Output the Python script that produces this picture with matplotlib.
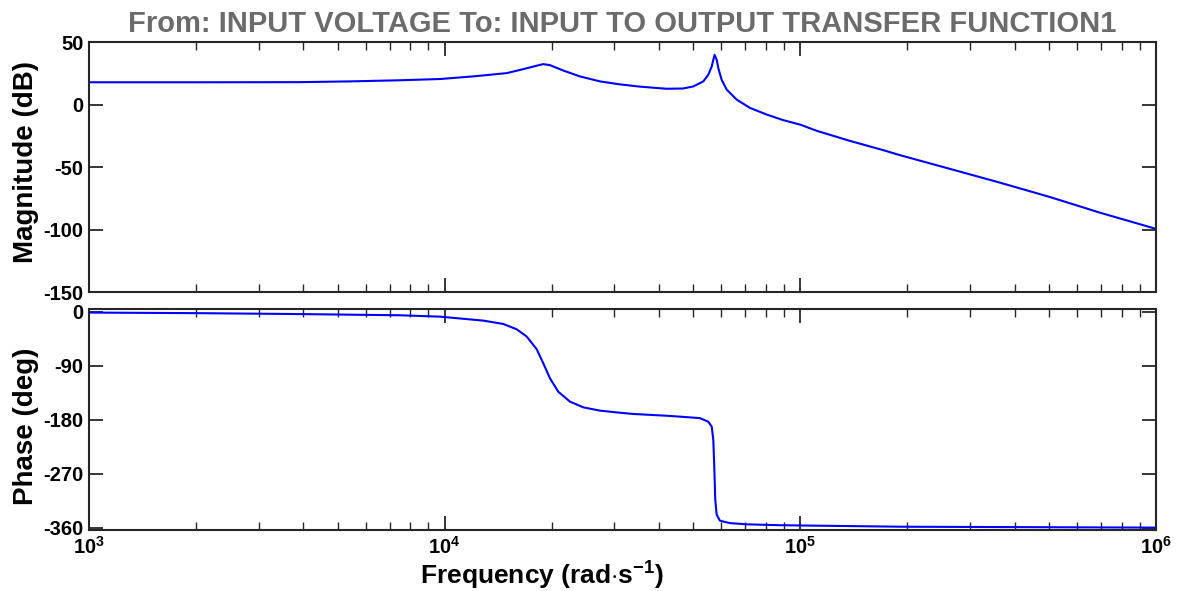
import numpy as np
import matplotlib
matplotlib.use("Agg")
import matplotlib.pyplot as plt
import matplotlib.ticker as mticker

plt.rcParams.update({
    "font.family": ["Liberation Sans", "DejaVu Sans"],
    "font.weight": "bold",
    "mathtext.fontset": "custom",
    "mathtext.rm": "Liberation Sans:bold",
    "mathtext.bf": "Liberation Sans:bold",
    "mathtext.default": "bf",
    "axes.edgecolor": "#262626",
    "axes.linewidth": 1.5,
})

# magnitude curve (rad/s, dB)
mag_freq = [1000, 2050, 3920, 5420, 7480, 9710, 12030, 14930, 16630, 18530,
            18930, 19770, 21550, 23990, 27330, 31120, 35420, 42080, 46770,
            50020, 53350, 55100, 56330, 56920, 57410, 58190, 58800, 60080,
            62080, 66240, 72150, 80370, 89530, 100200, 111100, 137800,
            171000, 190500, 263500, 364000, 503000, 695000, 1000000]
mag_db = [17.8, 17.8, 17.9, 18.5, 19.4, 20.4, 22.5, 25.1, 28.3, 31.7,
          32.3, 31.5, 27.2, 22.5, 18.5, 16.1, 14.3, 12.6, 12.8,
          14.5, 18.5, 23.8, 30.4, 35.7, 39.7, 35.7, 29.1, 19.8,
          11.9, 3.9, -2.7, -8.0, -12.5, -16.2, -21.0, -29.1,
          -36.5, -40.5, -51.5, -62.5, -74.0, -86.5, -99.5]

# phase curve (rad/s, deg)
ph_freq = [1000, 2050, 3920, 7480, 9710, 12840, 14620, 15940, 17010, 18140,
           18930, 19770, 20870, 22510, 24530, 27330, 31110, 33840, 42100,
           45860, 52220, 55100, 56330, 56920, 57280, 57650, 58170, 59420,
           63400, 70630, 87640, 190500, 1000000]
ph_deg = [-1.0, -2.0, -3.5, -5.5, -7.8, -14.4, -20.0, -28.9, -41.0, -62.0,
          -85.5, -110.5, -133.0, -149.5, -159.0, -164.5, -168.0, -170.0, -173.0,
          -174.5, -177.0, -183.0, -191.0, -213.0, -258.0, -313.0, -338.0, -348.0,
          -352.0, -354.0, -355.5, -358.0, -359.5]

xticks = [1e3, 1e4, 1e5, 1e6]
xtick_labels = [r"$10^{3}$", r"$10^{4}$", r"$10^{5}$", r"$10^{6}$"]
mag_ticks = [50, 0, -50, -100, -150]
ph_ticks = [0, -90, -180, -270, -360]

fig = plt.figure(figsize=(11.8, 5.91), dpi=100)
ax1 = fig.add_axes([0.0754, 0.5059, 0.9043, 0.4230])
ax2 = fig.add_axes([0.0754, 0.1032, 0.9043, 0.3740])

ax1.plot(mag_freq, mag_db, color="#0000ff", lw=1.5)
ax2.plot(ph_freq, ph_deg, color="#0000ff", lw=1.5)

for ax in (ax1, ax2):
    ax.set_xscale("log")
    ax.set_xlim(1e3, 1e6)
    ax.set_xticks(xticks)
    ax.xaxis.set_minor_locator(mticker.LogLocator(base=10, subs=np.arange(2, 10)))
    ax.xaxis.set_minor_formatter(mticker.NullFormatter())
    ax.tick_params(which="major", direction="in", length=10, width=1.3,
                   top=True, right=True, labelsize=14.5, pad=4, color="#262626")
    ax.tick_params(which="minor", direction="in", length=6, width=1.0,
                   top=True, right=True, color="#262626")
    ax.tick_params(axis="y", which="minor", left=False, right=False)

ax1.set_ylim(-150, 50)
ax1.set_yticks(mag_ticks)
ax1.set_yticklabels([str(t) for t in mag_ticks])
ax1.set_xticklabels([])
ax1.set_ylabel("Magnitude (dB)", fontsize=20, fontweight="bold")
ax1.set_title("From: INPUT VOLTAGE To: INPUT TO OUTPUT TRANSFER FUNCTION1",
              fontsize=21, fontweight="bold", color="#6b6b6b", pad=7)

ax2.set_ylim(-363.5, 5)
ax2.set_yticks(ph_ticks)
ax2.set_yticklabels([str(t) for t in ph_ticks])
ax2.set_xticklabels(xtick_labels)
ax2.tick_params(axis="x", which="major", pad=4, labelsize=14.5)
ax2.set_ylabel("Phase (deg)", fontsize=20, fontweight="bold")
ax2.set_xlabel(r"Frequency (rad$\cdot$s$^{-1}$)", fontsize=19,
               fontweight="bold")
ax1.yaxis.set_label_coords(-0.047, 0.52)
ax2.yaxis.set_label_coords(-0.047, 0.47)
ax2.xaxis.set_label_coords(0.4246, -0.135)
ax2.xaxis.label.set_va("top")

fig.savefig("out.png", dpi=100)
